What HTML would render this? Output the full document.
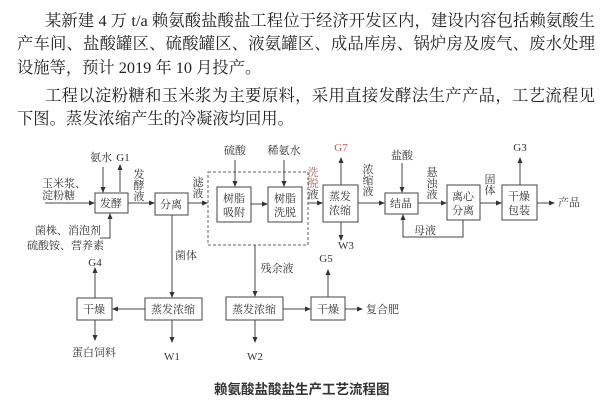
<!DOCTYPE html>
<html><head><meta charset="utf-8"><style>
body{margin:0;width:605px;height:409px;background:#fff;overflow:hidden;position:relative;font-family:"Liberation Serif","Noto Serif CJK SC",serif;color:#222}
.l{position:absolute;font-size:16.3px;line-height:20px;white-space:nowrap}
.j{text-align:justify;text-align-last:justify}
svg{position:absolute;left:0;top:0}
svg text{font-family:"Liberation Serif","Noto Serif CJK SC",serif;font-size:11px;fill:#333}
</style></head><body>
<div class="l j" style="left:45px;top:11px;width:550px">某新建 4 万 t/a 赖氨酸盐酸盐工程位于经济开发区内，建设内容包括赖氨酸生</div>
<div class="l j" style="left:17px;top:34px;width:578px">产车间、盐酸罐区、硫酸罐区、液氨罐区、成品库房、锅炉房及废气、废水处理</div>
<div class="l" style="left:17px;top:58px">设施等，预计 2019 年 10 月投产。</div>
<div class="l j" style="left:45px;top:86px;width:550px">工程以淀粉糖和玉米浆为主要原料，采用直接发酵法生产产品，工艺流程见</div>
<div class="l" style="left:17px;top:109px">下图。蒸发浓缩产生的冷凝液均回用。</div>
<svg width="605" height="409" viewBox="0 0 605 409">
<defs><marker id="a" markerWidth="6" markerHeight="6" refX="5" refY="3" orient="auto"><path d="M0,0.5 L6,3 L0,5.5z" fill="#333"/></marker></defs>
<g fill="none" stroke="#444" stroke-width="1">
<rect x="95" y="193" width="33" height="20"/>
<rect x="155" y="193" width="33" height="22"/>
<rect x="208" y="172" width="100" height="73" stroke-dasharray="3,2" stroke="#666"/>
<rect x="217" y="187" width="34" height="35"/>
<rect x="268" y="187" width="34" height="35"/>
<rect x="323" y="185" width="35" height="37"/>
<rect x="385" y="193" width="33" height="21"/>
<rect x="447" y="185" width="33" height="35"/>
<rect x="502" y="185" width="35" height="35"/>
<rect x="77" y="298" width="35" height="22"/>
<rect x="145" y="298" width="57" height="22"/>
<rect x="226" y="297" width="57" height="23"/>
<rect x="311" y="297" width="34" height="23"/>
</g>
<g stroke="#444" stroke-width="1" fill="none" marker-end="url(#a)">
<path d="M45 203H94"/><path d="M103 167V192"/><path d="M120 192V165"/>
<path d="M100 238H110V214"/><path d="M128 203H154"/><path d="M188 203H207"/>
<path d="M235 160V186"/><path d="M284 160V186"/><path d="M251 204H267"/>
<path d="M308 203H322"/><path d="M341 185V158"/><path d="M341 222V240"/>
<path d="M358 203H384"/><path d="M402 163V192"/><path d="M418 203H446"/>
<path d="M463 220V237H403V215"/><path d="M480 203H501"/><path d="M520 185V158"/>
<path d="M537 203H554"/><path d="M172 215V297"/><path d="M255 245V296"/>
<path d="M145 309H113"/><path d="M95 298V268"/><path d="M95 320V340"/>
<path d="M172 320V342"/><path d="M255 320V342"/><path d="M283 309H310"/>
<path d="M328 297V270"/><path d="M345 309H362"/>
</g>
<g text-anchor="middle">
<text x="111" y="207">发酵</text><text x="171" y="208">分离</text>
<text x="234" y="202">树脂</text><text x="234" y="216">吸附</text>
<text x="285" y="202">树脂</text><text x="285" y="216">洗脱</text>
<text x="340" y="200">蒸发</text><text x="340" y="214">浓缩</text>
<text x="401" y="207">结晶</text>
<text x="463" y="200">离心</text><text x="463" y="214">分离</text>
<text x="519" y="200">干燥</text><text x="519" y="214">包装</text>
<text x="94" y="313">干燥</text><text x="173" y="313">蒸发浓缩</text>
<text x="254" y="313">蒸发浓缩</text><text x="328" y="313">干燥</text>
<text x="101" y="161">氨水</text><text x="123" y="161">G1</text>
<text x="235" y="154">硫酸</text><text x="284" y="154">稀氨水</text>
<text x="341" y="151" style="fill:#c55">G7</text><text x="402" y="159">盐酸</text>
<text x="520" y="151">G3</text><text x="95" y="266">G4</text><text x="326" y="262">G5</text>
<text x="346" y="249">W3</text><text x="172" y="360">W1</text><text x="255" y="360">W2</text>
<text x="94" y="356">蛋白饲料</text>
<text x="139" y="178">发</text><text x="139" y="189">酵</text><text x="139" y="200">液</text>
<text x="198" y="186">滤</text><text x="198" y="197">液</text>
<text x="313" y="176" style="fill:#a66">洗</text><text x="313" y="187" style="fill:#a66">脱</text><text x="313" y="198">液</text>
<text x="368" y="173">浓</text><text x="368" y="184">缩</text><text x="368" y="195">液</text>
<text x="432" y="176">悬</text><text x="432" y="187">浊</text><text x="432" y="198">液</text>
<text x="490" y="183">固</text><text x="490" y="194">体</text>
<text x="425" y="234">母液</text>
<text x="186" y="259">菌体</text><text x="277" y="272">残余液</text>
</g>
<text x="42" y="187">玉米浆、</text><text x="42" y="199">淀粉糖</text>
<text x="35" y="234">菌株、消泡剂</text><text x="27" y="249">硫酸铵、营养素</text>
<text x="558" y="206">产品</text><text x="366" y="313">复合肥</text>
<text x="214" y="394" style="font-size:13.5px;font-family:'Liberation Sans','Noto Sans CJK SC',sans-serif;font-weight:bold;fill:#333">赖氨酸盐酸盐生产工艺流程图</text>
</svg>
</body></html>
